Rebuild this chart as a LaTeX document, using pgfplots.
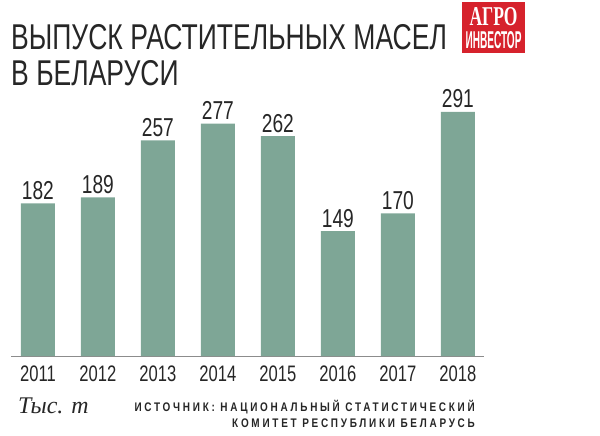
\documentclass[border=0pt]{standalone}
\usepackage{pgfplots}
\pgfplotsset{compat=1.18}
\usepackage{fontspec}
\setmainfont{Liberation Sans}
\newfontfamily\condfont[FakeStretch=0.74]{Liberation Sans}
\newfontfamily\srcfont[LetterSpace=22,FakeStretch=0.8]{Liberation Sans}
\newfontfamily\serifit{Liberation Serif}
\newfontfamily\logoserif{Liberation Serif}
\definecolor{barc}{RGB}{126,166,150}
\definecolor{logored}{RGB}{214,34,44}
\definecolor{txt}{RGB}{38,38,38}
\begin{document}
\begin{tikzpicture}[x=1bp,y=1bp]
\path (0,0) rectangle (600,436);
% title
\node[anchor=base west, inner sep=0, text=txt, font=\condfont\fontsize{36}{36}\selectfont] at (11,386) {ВЫПУСК РАСТИТЕЛЬНЫХ МАСЕЛ};
\node[anchor=base west, inner sep=0, text=txt, font=\condfont\fontsize{36}{36}\selectfont] at (11,350) {В БЕЛАРУСИ};
% logo
\fill[logored] (462,383) rectangle (525,434);
\node[anchor=base, inner sep=0, text=white] at (493.5,410) {\resizebox{48bp}{18bp}{\logoserif\bfseries АГРО}};
\node[anchor=base, inner sep=0, text=white] at (493.5,387) {\resizebox{56bp}{17bp}{\bfseries ИНВЕСТОР}};
\begin{axis}[at={(19,95)}, anchor=south west, scale only axis,
  width=473bp, height=253bp,
  xmin=-0.442, xmax=7.442, ymin=0, ymax=301.2,
  ybar, bar width=34bp,
  axis x line*=bottom, hide y axis,
  axis line style={draw=black!45, line width=0.8pt, -},
  xtick={0,...,7},
  xticklabels={2011,2012,2013,2014,2015,2016,2017,2018},
  xtick style={draw=none},
  xticklabel style={font=\condfont\fontsize{22.5}{22.5}\selectfont, text=txt, yshift=-2bp},
  nodes near coords,
  nodes near coords style={font=\condfont\fontsize{26}{26}\selectfont, text=txt},
  /pgf/number format/assume math mode=true,
  clip=false]
\addplot[fill=barc, draw=none] coordinates {(0,182) (1,189) (2,257) (3,277) (4,262) (5,149) (6,170) (7,291)};
\end{axis}
% unit
\node[anchor=base west, inner sep=0, text=txt, font=\serifit\itshape\fontsize{24}{24}\selectfont] at (18,22) {Тыс. т};
% source
\node[anchor=base east, inner sep=0, text=txt, font=\srcfont\bfseries\fontsize{12.5}{12.5}\selectfont] at (475,24) {ИСТОЧНИК: НАЦИОНАЛЬНЫЙ СТАТИСТИЧЕСКИЙ};
\node[anchor=base east, inner sep=0, text=txt, font=\srcfont\bfseries\fontsize{12.5}{12.5}\selectfont] at (475,8) {КОМИТЕТ РЕСПУБЛИКИ БЕЛАРУСЬ};
\end{tikzpicture}
\end{document}
